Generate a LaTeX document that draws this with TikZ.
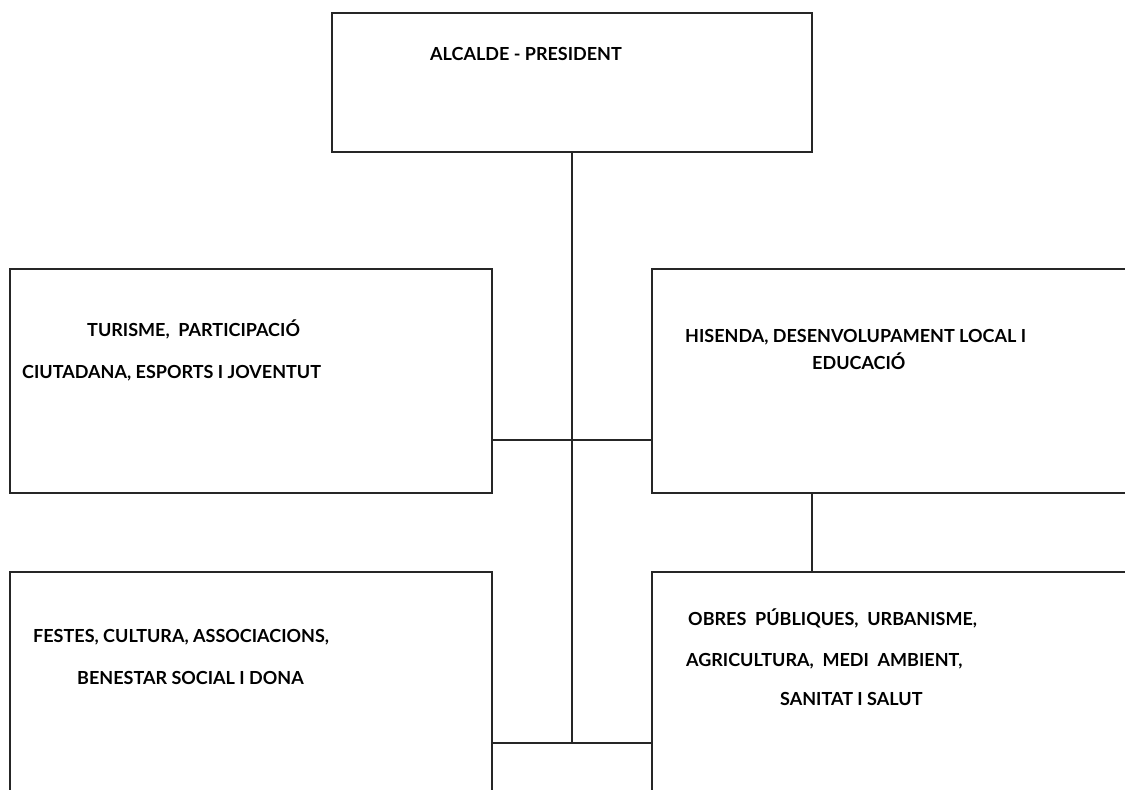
\documentclass[tikz,border=0pt]{standalone}
\usepackage{fontspec}
\setmainfont{Lato}[BoldFont={Lato Bold}]
\begin{document}
\begin{tikzpicture}[x=1pt,y=-1pt,
  box/.style={draw=black!85,line width=1.6pt,rectangle,inner sep=0pt,anchor=north west},
  link/.style={draw=black!85,line width=1.5pt},
  txt/.style={anchor=base west,inner sep=0pt,font=\fontsize{18}{20}\selectfont\bfseries}]
\useasboundingbox (0,0) rectangle (1125,790);
\begin{scope}
\clip (0,0) rectangle (1125,790);
% boxes
\node[box,minimum width=480pt,minimum height=139pt] (top) at (331,12) {};
\node[box,minimum width=482pt,minimum height=224pt] (l1) at (9,268) {};
\node[box,minimum width=500pt,minimum height=224pt] (r1) at (651,268) {};
\node[box,minimum width=482pt,minimum height=240pt] (l2) at (9,571) {};
\node[box,minimum width=500pt,minimum height=240pt] (r2) at (651,571) {};
% junctions
\coordinate (j1) at (572,440);
\coordinate (j2) at (572,743);
\coordinate (jr) at (812,500);
% connectors
\draw[link] (top.south -| j1) -- (j2);
\draw[link] (l1.east |- j1) -- (r1.west |- j1);
\draw[link] (l2.east |- j2) -- (r2.west |- j2);
\draw[link] (r1.south -| jr) -- (r2.north -| jr);
\end{scope}
% labels
\node[txt] (t0) at (430,60) {ALCALDE - PRESIDENT};
\node[txt] (t1a) at (87,336) {TURISME,\ \ PARTICIPACIÓ};
\node[txt] (t1b) at (22,378) {CIUTADANA, ESPORTS I JOVENTUT};
\node[txt] (t2a) at (685,342) {HISENDA, DESENVOLUPAMENT LOCAL I};
\node[txt] (t2b) at (812,369) {EDUCACIÓ};
\node[txt] (t3a) at (33,642) {FESTES, CULTURA, ASSOCIACIONS,};
\node[txt] (t3b) at (77,684) {BENESTAR SOCIAL I DONA};
\node[txt] (t4a) at (688,625) {OBRES\ \ PÚBLIQUES,\ \ URBANISME,};
\node[txt] (t4b) at (686,666) {AGRICULTURA,\ \ MEDI\ \ AMBIENT,};
\node[txt] (t4c) at (780,705) {SANITAT I SALUT};
\end{tikzpicture}
\end{document}
